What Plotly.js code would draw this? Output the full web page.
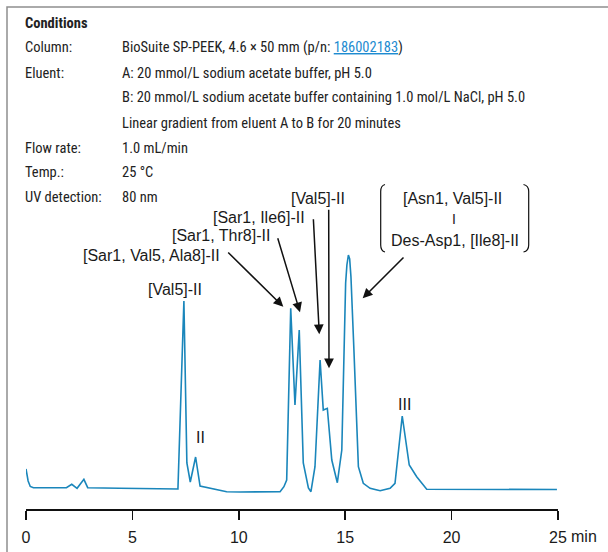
<!DOCTYPE html>
<html>
<head>
<meta charset="utf-8">
<script src="https://cdn.plot.ly/plotly-3.0.1.min.js"></script>
<style>
  html, body { margin: 0; padding: 0; background: #fff; }
  #chart { width: 608px; height: 552px; }
</style>
</head>
<body>
<div id="chart"></div>
<script>
// ---- data ----
const timeMin = [0, 0.1, 0.2, 0.35, 1.0, 1.9, 2.15, 2.4, 2.72, 2.9, 4.4, 6.9, 7.14, 7.42, 7.56, 7.72, 7.97, 8.18, 8.96, 9.43, 10.06, 11.94, 12.12, 12.25, 12.44, 12.64, 12.84, 13.03, 13.27, 13.39, 13.58, 13.82, 13.97, 14.16, 14.37, 14.63, 14.84, 14.91, 15.02, 15.08, 15.15, 15.21, 15.27, 15.41, 15.54, 15.62, 15.85, 16.17, 16.64, 17.11, 17.34, 17.68, 18.01, 18.36, 18.83, 20.39, 24.95];
const signal = [21, 9, 3.5, 2.3, 2.3, 2.3, 5.7, 1.7, 10.7, 2.3, 1.7, 0.7, 1, 189, 27, 8, 33, 4, 0, -1.7, -2, -1.7, 3.3, 10, 181.7, 85, 160, 27, 2, -1.7, 23.3, 130, 80, 81.7, 30, 7.3, 40, 106.7, 206.7, 225, 235, 231, 213.3, 140, 53.3, 23.3, 6.7, 1.7, -0.7, 1.7, 6.7, 74, 25, 13.3, 0.7, 0.7, 0.5];
const tickValues = [0, 5, 10, 15, 20, 25];
const tickLabels = ["0", "5", "10", "15", "20", "25"];
const xUnit = "min";
const conditionLabels = ["Column:", "Eluent:", "", "", "Flow rate:", "Temp.:", "UV detection:"];
const conditionValues = [
  "BioSuite SP-PEEK, 4.6 × 50 mm (p/n: <span style='color:#1e8bd0'><u>186002183</u></span>)",
  "A: 20 mmol/L sodium acetate buffer, pH 5.0",
  "B: 20 mmol/L sodium acetate buffer containing 1.0 mol/L NaCl, pH 5.0",
  "Linear gradient from eluent A to B for 20 minutes",
  "1.0 mL/min",
  "25 °C",
  "80 nm"
];
const peakLabels = ["[Val5]-II", "II", "III", "[Sar1, Val5, Ala8]-II", "[Sar1, Thr8]-II", "[Sar1, Ile6]-II", "[Val5]-II", "[Asn1, Val5]-II", "I", "Des-Asp1, [Ile8]-II"];

// ---- layout geometry (pixels) ----
const W = 608, H = 552, ML = 26, MR = 50, MT = 0, MB = 43;
const PW = W - ML - MR, PH = H - MT - MB;
const px = x => (x - ML) / PW;
const py = y => (H - MB - y) / PH;

const labelFont = {family: "Liberation Sans, Arial, sans-serif", size: 16, color: "#1a1a1a"};
const condFont = {family: "Liberation Sans Narrow, Roboto Condensed, DejaVu Sans Condensed, Roboto, sans-serif", size: 14.5, color: "#222"};

const annotations = [];
// conditions block
annotations.push({xref: "paper", yref: "paper", x: px(23), y: py(23), xanchor: "left", yanchor: "middle",
  text: "<b>Conditions</b>", showarrow: false, font: condFont});
const rowY = [48, 73, 98, 123, 148, 172, 197];
for (let i = 0; i < conditionValues.length; i++) {
  if (conditionLabels[i]) annotations.push({xref: "paper", yref: "paper", x: px(23), y: py(rowY[i]), xanchor: "left", yanchor: "middle",
    text: conditionLabels[i], showarrow: false, font: condFont});
  annotations.push({xref: "paper", yref: "paper", x: px(120), y: py(rowY[i]), xanchor: "left", yanchor: "middle",
    text: conditionValues[i], showarrow: false, font: condFont});
}
// peak labels
const labelPos = [[175, 290], [200, 437], [404, 404], [151, 255], [220.5, 235], [258.7, 217], [318.3, 198], [452.3, 198], [454.3, 219], [454.5, 240]];
peakLabels.forEach((t, i) => {
  annotations.push({xref: "paper", yref: "paper", x: px(labelPos[i][0]), y: py(labelPos[i][1]), xanchor: "center", yanchor: "middle",
    text: t, showarrow: false, font: i === 8 ? Object.assign({}, labelFont, {size: 14}) : labelFont});
});
// arrows: [tailX, tailY, headX, headY]
const arrows = [[226.7, 251, 283.3, 306.7], [277.3, 236.7, 300, 312.3], [313.3, 217.7, 319.3, 334.3], [328.7, 208.3, 329, 368.3], [405, 256, 362.7, 298.3]];
arrows.forEach(a => {
  annotations.push({xref: "paper", yref: "paper", x: px(a[2]), y: py(a[3]), ax: a[0] - a[2], ay: a[1] - a[3],
    text: "", showarrow: true, arrowhead: 2, arrowsize: 1.3, arrowwidth: 1.5, arrowcolor: "#111", standoff: 0});
});
// unit label next to last tick
annotations.push({xref: "paper", yref: "paper", x: px(569), y: py(536), xanchor: "left", yanchor: "middle",
  text: xUnit, showarrow: false, font: labelFont});

function pathStr(pts) {
  return pts.map(p => p[0] + " " + px(p[1]).toFixed(5) + "," + py(p[2]).toFixed(5)).join(" ");
}
const shapes = [
  // frame
  {type: "path", xref: "paper", yref: "paper", path: pathStr([["M", 7, 552], ["L", 7, 7], ["L", 608, 7]]),
   line: {color: "#8f8f8f", width: 1.5}},
  // brackets
  {type: "path", xref: "paper", yref: "paper", path: pathStr([["M", 385, 184.5], ["Q", 380.7, 185.5], ["", 380.7, 191.5], ["L", 380.7, 245], ["Q", 380.7, 251], ["", 385, 252]]),
   line: {color: "#111", width: 1.2}},
  {type: "path", xref: "paper", yref: "paper", path: pathStr([["M", 523.5, 184.5], ["Q", 528.7, 185.5], ["", 528.7, 191.5], ["L", 528.7, 245], ["Q", 528.7, 251], ["", 523.5, 252]]),
   line: {color: "#111", width: 1.2}}
];

const trace = {x: timeMin, y: signal, type: "scatter", mode: "lines",
  line: {color: "#1a86bb", width: 1.6}, hoverinfo: "skip"};

const layout = {
  width: W, height: H, margin: {l: ML, r: MR, t: MT, b: MB},
  paper_bgcolor: "#fff", plot_bgcolor: "#fff", showlegend: false,
  xaxis: {range: [0, 25], showgrid: false, zeroline: false, showline: true, linecolor: "#111", linewidth: 1.5,
    ticks: "outside", ticklen: 9, tickwidth: 1.5, tickcolor: "#111", tickvals: tickValues, ticktext: tickLabels,
    tickfont: labelFont, ticklabelstandoff: 4, fixedrange: true},
  yaxis: {range: [-19, 490], visible: false, fixedrange: true},
  annotations: annotations, shapes: shapes
};

Plotly.newPlot("chart", [trace], layout, {staticPlot: true, displayModeBar: false});
</script>
</body>
</html>
